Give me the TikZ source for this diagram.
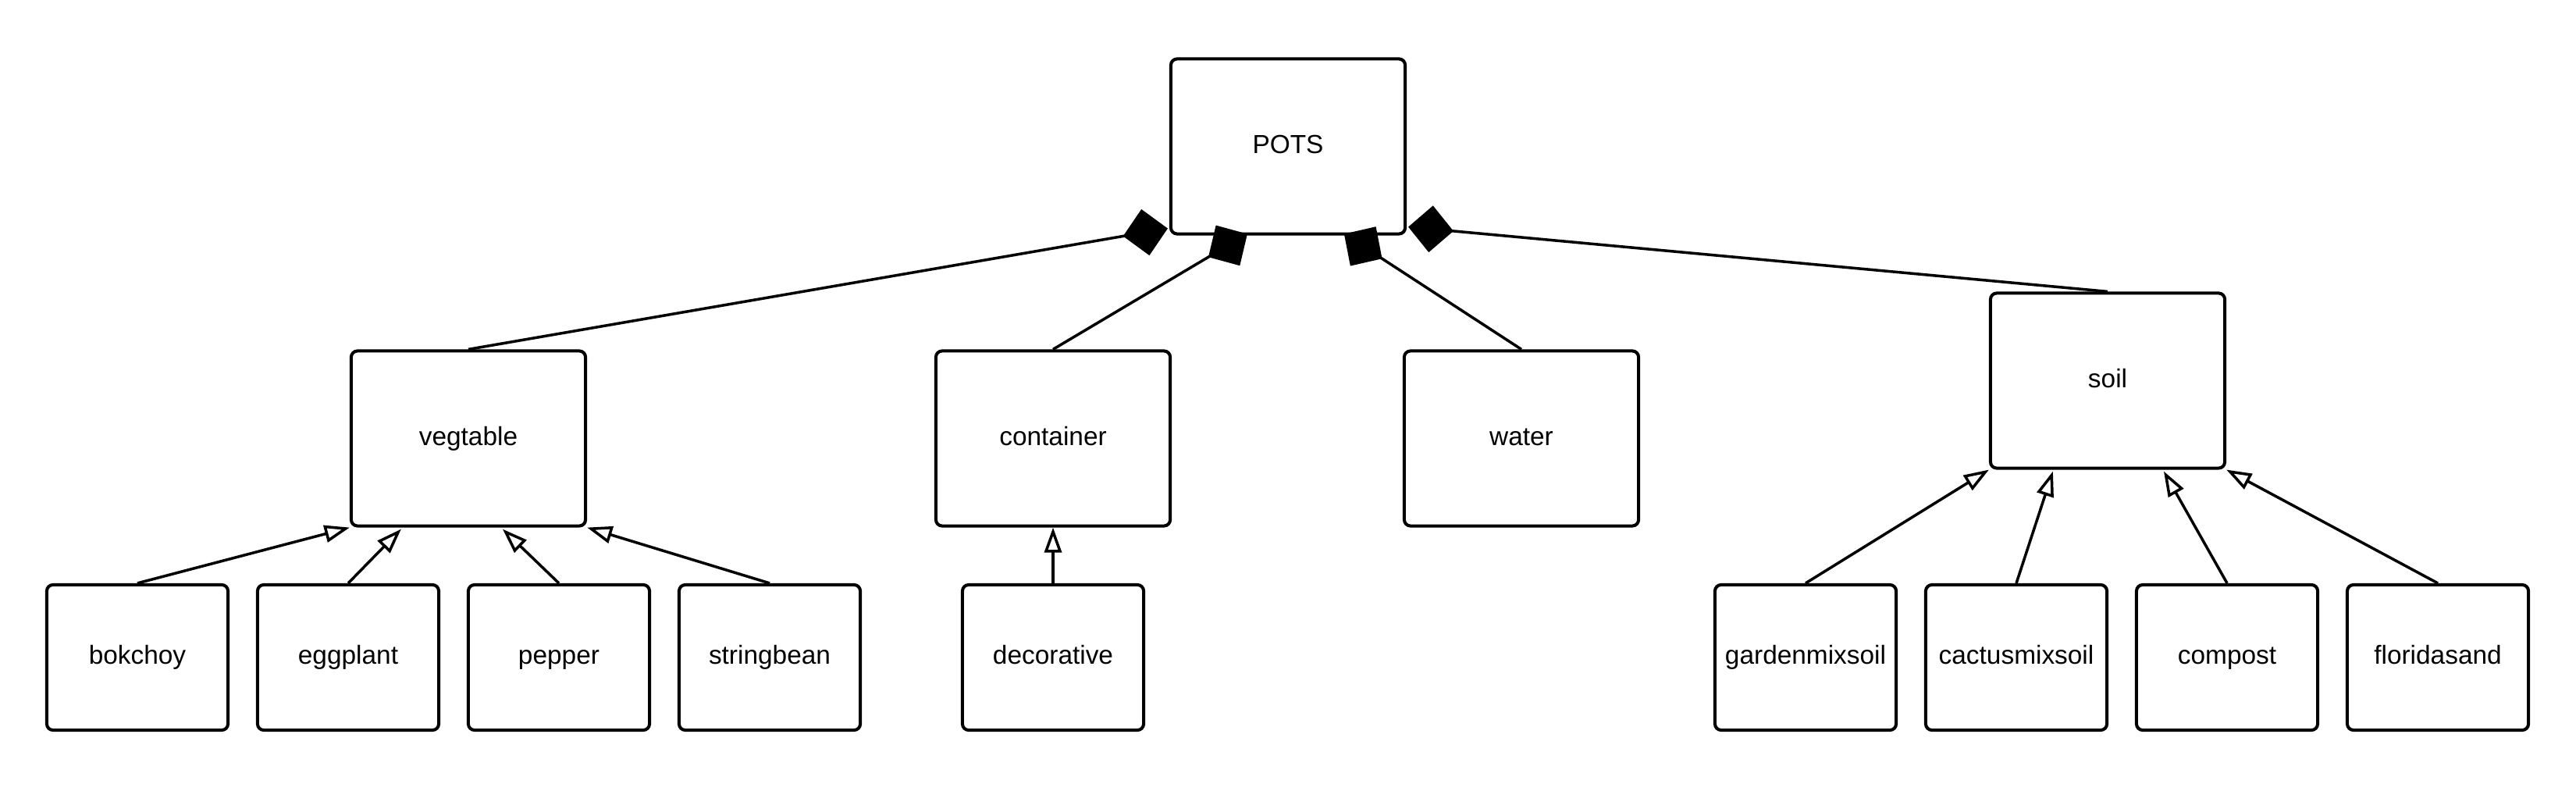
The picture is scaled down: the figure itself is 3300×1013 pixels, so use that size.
\documentclass[tikz,border=0pt]{standalone}
\usepackage{fontspec}
\setmainfont{Liberation Sans}
\usetikzlibrary{arrows.meta,calc}
\begin{document}
\begin{tikzpicture}[x=0.01cm,y=-0.01cm,
  box/.style={draw=black, line width=1.15pt, rounded corners=0.08cm, fill=white,
    inner sep=0pt, font=\fontsize{9.5pt}{11pt}\selectfont,
    text height=0.716em, text depth=0.21em},
  bigbox/.style={box, minimum width=3cm, minimum height=2.24cm},
  smallbox/.style={box, minimum width=2.32cm, minimum height=1.86cm},
  comp/.style={draw=black, line width=1pt, -{Diamond[length=0.58cm, width=0.6cm, fill=black]}},
  gen/.style={draw=black, line width=1pt, -{Triangle[length=0.32cm, width=0.22cm, fill=white]}}]
\useasboundingbox (0,0) rectangle (3300,1013);
% main row
\node[bigbox] (pots) at (1650,187.5) {POTS};
\node[bigbox] (vegtable) at (600,561.5) {vegtable};
\node[bigbox] (container) at (1349,561.5) {container};
\node[bigbox] (water) at (1949,561.5) {water};
\node[bigbox] (soil) at (2700,487.5) {soil};
% bottom row
\node[smallbox] (bokchoy) at (176,842) {bokchoy};
\node[smallbox] (eggplant) at (446,842) {eggplant};
\node[smallbox] (pepper) at (716,842) {pepper};
\node[smallbox] (stringbean) at (986,842) {stringbean};
\node[smallbox] (decorative) at (1349,842) {decorative};
\node[smallbox] (gardenmixsoil) at (2313,842) {gardenmixsoil};
\node[smallbox] (cactusmixsoil) at (2583,842) {cactusmixsoil};
\node[smallbox] (compost) at (2853,842) {compost};
\node[smallbox] (floridasand) at (3123,842) {floridasand};
% attachment points
\coordinate (pA) at ($(pots.south west)+(-2,-9)$);
\coordinate (pB) at ($(pots.south west)+(100,-2)$);
\coordinate (pC) at ($(pots.south west)+(224,-2)$);
\coordinate (pD) at ($(pots.south east)+(2,-11)$);
\coordinate (vB) at ($(vegtable.south west)+(66,2)$);
\coordinate (vC) at ($(vegtable.south west)+(196,2)$);
\coordinate (sB) at ($(soil.south west)+(82,2)$);
\coordinate (sC) at ($(soil.south west)+(224,2)$);
% composition
\draw[comp] (vegtable.north) -- (pA);
\draw[comp] (container.north) -- (pB);
\draw[comp] (water.north) -- (pC);
\draw[comp] (soil.north) -- (pD);
% generalisation
\draw[gen] (bokchoy.north) -- (vegtable.south west);
\draw[gen] (eggplant.north) -- (vB);
\draw[gen] (pepper.north) -- (vC);
\draw[gen] (stringbean.north) -- (vegtable.south east);
\draw[gen] (decorative.north) -- (container.south);
\draw[gen] (gardenmixsoil.north) -- (soil.south west);
\draw[gen] (cactusmixsoil.north) -- (sB);
\draw[gen] (compost.north) -- (sC);
\draw[gen] (floridasand.north) -- (soil.south east);
\end{tikzpicture}
\end{document}
